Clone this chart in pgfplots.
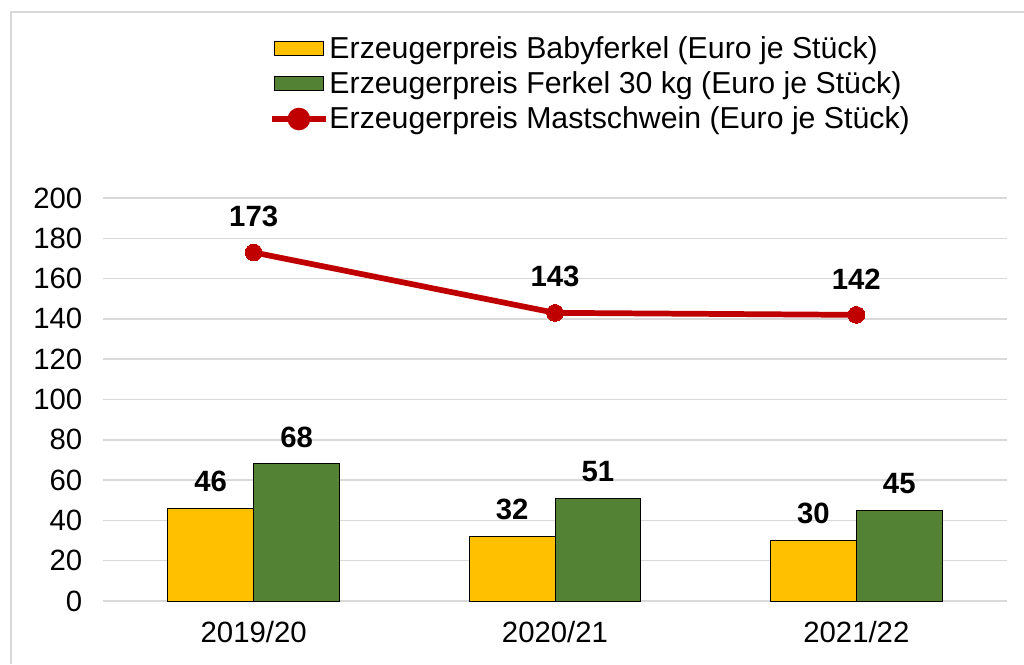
\documentclass[border=0pt]{standalone}
\usepackage{pgfplots}
\pgfplotsset{compat=1.18}
\usepackage{fontspec}
\setmainfont{Liberation Sans}
\definecolor{gelb}{HTML}{FFC000}
\definecolor{gruen}{HTML}{548235}
\definecolor{rot}{HTML}{C00000}
\definecolor{gitter}{HTML}{D9D9D9}

\begin{document}
\begin{tikzpicture}
  % 1 px = 0.75 pt
  \useasboundingbox (0pt,0pt) rectangle (768pt,498pt);
  \draw[gitter, line width=1.5pt] (8.25pt,0pt) -- (8.25pt,489pt) -- (768pt,489pt);
  \begin{axis}[
      at={(77.25pt,47.25pt)}, anchor=south west,
      scale only axis,
      width=678pt, height=302.25pt,
      xmin=-0.5, xmax=2.5,
      ymin=0, ymax=200,
      xtick={0,1,2},
      xticklabels={2019/20,2020/21,2021/22},
      ytick={0,20,...,200},
      ymajorgrids,
      grid style={gitter, line width=1.1pt},
      axis line style={draw=none},
      major tick style={draw=none},
      ticklabel style={font=\fontsize{22}{26}\selectfont},
      /pgf/number format/assume math mode=true,
      yticklabel style={xshift=-12pt},
      xticklabel style={yshift=-12pt},
      clip=false,
      legend cell align=left,
      legend style={at={(rel axis cs:0.183,1.403)}, anchor=north west,
        draw=none, fill=none, font=\fontsize{22.7}{26}\selectfont,
        nodes={inner sep=0.3pt}, row sep=8pt, inner sep=0pt},
    ]

    \addplot[ybar, bar width=0.285, bar shift=-0.1425, fill=gelb, draw=black, line width=0.75pt,
      nodes near coords,
      every node near coord/.append style={font=\bfseries\fontsize{22}{26}\selectfont, anchor=center, xshift=-32.2pt, yshift=20pt},
      legend image code/.code={\draw[fill=gelb, draw=black, line width=0.75pt] (0pt,-5.25pt) rectangle (36.75pt,5.25pt);}]
      coordinates {(0,46) (1,32) (2,30)};
    \addlegendentry{Erzeugerpreis Babyferkel (Euro je Stück)}

    \addplot[ybar, bar width=0.285, bar shift=0.1425, fill=gruen, draw=black, line width=0.75pt,
      nodes near coords,
      every node near coord/.append style={font=\bfseries\fontsize{22}{26}\selectfont, anchor=center, xshift=32.2pt, yshift=20pt},
      legend image code/.code={\draw[fill=gruen, draw=black, line width=0.75pt] (0pt,-5.25pt) rectangle (36.75pt,5.25pt);}]
      coordinates {(0,68) (1,51) (2,45)};
    \addlegendentry{Erzeugerpreis Ferkel 30 kg (Euro je Stück)}

    \addplot[rot, line width=4.3pt, mark=*, mark size=6.3pt, mark options={fill=rot, draw=rot, line width=0pt},
      nodes near coords,
      every node near coord/.append style={black, font=\bfseries\fontsize{22}{26}\selectfont, anchor=center, yshift=27pt},
      legend image code/.code={\draw[rot, line width=4.3pt] (-2pt,0pt) -- (39pt,0pt);
        \fill[rot] (18.5pt,0pt) circle (6.3pt);}]
      coordinates {(0,173) (1,143) (2,142)};
    \addlegendentry{Erzeugerpreis Mastschwein (Euro je Stück)}

  \end{axis}
\end{tikzpicture}
\end{document}
